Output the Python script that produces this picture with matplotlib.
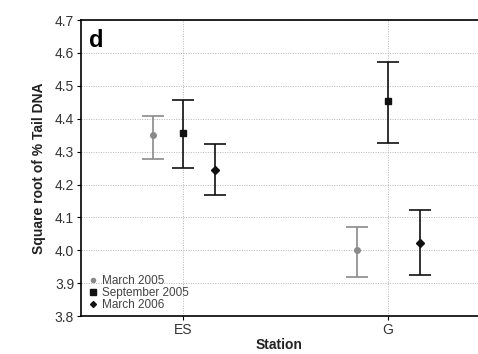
import matplotlib
matplotlib.use("Agg")
import matplotlib.pyplot as plt
from matplotlib.lines import Line2D
import numpy as np

plt.rcParams['font.family'] = ['Liberation Sans', 'DejaVu Sans']

stations = ["ES", "G"]
series = ["March 2005", "September 2005", "March 2006"]
means = {
    "March 2005": [4.35, 4.00],
    "September 2005": [4.357, 4.455],
    "March 2006": [4.245, 4.022],
}
lows = {
    "March 2005": [4.277, 3.918],
    "September 2005": [4.25, 4.325],
    "March 2006": [4.167, 3.926],
}
highs = {
    "March 2005": [4.408, 4.072],
    "September 2005": [4.457, 4.572],
    "March 2006": [4.322, 4.122],
}
yticks = [3.8, 3.9, 4.0, 4.1, 4.2, 4.3, 4.4, 4.5, 4.6, 4.7]

offsets = [-0.15, 0.0, 0.155]
colors = ["#8a8a8a", "#111111", "#111111"]
markers = ["o", "s", "D"]
msizes = [4, 5, 4]

fig = plt.figure(figsize=(4.78, 3.54), dpi=100)
ax = fig.add_axes([0.1695, 0.107, 0.8305, 0.8365])

x = np.arange(len(stations))
handles = []
for s, off, c, m, ms in zip(series, offsets, colors, markers, msizes):
    mu = np.array(means[s])
    lo = mu - np.array(lows[s])
    hi = np.array(highs[s]) - mu
    ax.errorbar(x + off, mu, yerr=[lo, hi], fmt=m, color=c, ecolor=c,
                ms=ms, capsize=8, capthick=1.2, elinewidth=1.2,
                zorder=3)
    handles.append(Line2D([], [], linestyle='none', marker=m, color=c,
                          ms=ms - 1, label=s))

ax.set_xlim(-0.5, 1.44)
ax.set_ylim(3.8, 4.7)
ax.set_xticks(x)
ax.set_xticklabels(stations)
ax.set_yticks(yticks)
ax.set_yticklabels([f"{v:.1f}" for v in yticks])
ax.grid(True, linestyle=(0, (1, 1.5)), color="#b5b5b5", linewidth=0.7)
ax.set_axisbelow(True)
ax.spines['right'].set_visible(False)
for sp in ['left', 'top', 'bottom']:
    ax.spines[sp].set_linewidth(1.2)
ax.tick_params(axis='both', labelsize=10, labelcolor="#333333", length=3, width=0.8, pad=2)

ax.set_xlabel("Station", fontsize=10, fontweight='bold', color="#222222", labelpad=1)
ax.set_ylabel("Square root of % Tail DNA", fontsize=10, fontweight='bold', color="#222222", labelpad=6)

ax.text(0.02, 0.97, "d", transform=ax.transAxes, fontsize=17, fontweight='bold',
        va='top', ha='left')

leg = ax.legend(handles=handles, loc='lower left', frameon=False, fontsize=8.5,
                handletextpad=0.5, labelspacing=0.0, borderaxespad=0.3,
                handlelength=0.6, bbox_to_anchor=(0.0, -0.01))
for t in leg.get_texts():
    t.set_color("#444444")

fig.savefig("out.png", dpi=100)
